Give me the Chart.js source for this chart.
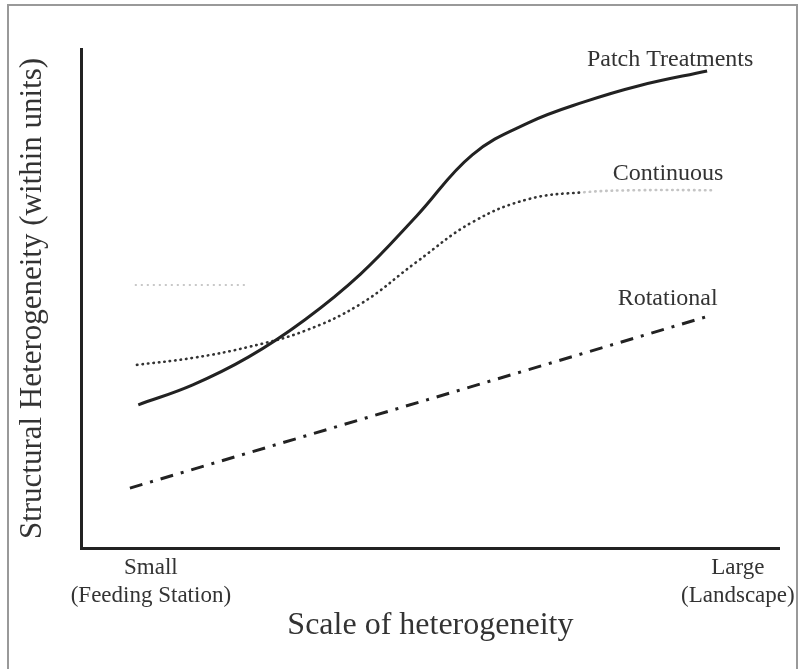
<!DOCTYPE html>
<html>
<head>
<meta charset="utf-8">
<script src="https://cdn.jsdelivr.net/npm/chart.js@4.4.1/dist/chart.umd.min.js"></script>
<style>
  body { margin: 0; background: #fff; }
  #wrap { position: relative; width: 802px; height: 669px; }
  #frame {
    position: absolute; left: 7px; top: 4px; width: 787px; height: 680px;
    border: 2px solid #999; pointer-events: none;
  }
</style>
</head>
<body>
<div id="wrap">
  <canvas id="chart"></canvas>
  <div id="frame"></div>
</div>
<script>
// Data (x: 0 = left axis, 100 = right end; y: 0 = bottom, 100 = top)
var patchX = [8.2, 16, 24, 32, 40, 48, 56, 64, 72, 80, 89.6];
var patchY = [28.7, 32.7, 38.3, 45.7, 54.9, 66.5, 78.8, 85.2, 89.4, 92.7, 95.6];

var continuousX = [8.0, 16, 24, 32, 40, 48, 56, 64, 72, 80, 90.4];
var continuousY = [36.7, 38.1, 40.3, 43.5, 48.9, 57.3, 65.3, 69.9, 71.3, 71.7, 71.7];

var rotationalX = [7.0, 89.4];
var rotationalY = [12.0, 46.3];

// faint stray dotted mark on the left
var strayX = [7.7, 23.5];
var strayY = [52.7, 52.7];

var tickValues = [10, 94];
var tickLabels = [["Small", "(Feeding Station)"], ["Large", "(Landscape)"]];

var seriesNames = ["Patch Treatments", "Continuous", "Rotational"];
var nameX = [72.4, 76.1, 76.8];
var nameY = [96.6, 73.7, 48.7];

function toPoints(xs, ys) {
  return xs.map(function (x, i) { return { x: x, y: ys[i] }; });
}

var serif = "'Liberation Serif', 'DejaVu Serif', serif";

// Draws the curve names next to the lines
var seriesLabels = {
  id: "seriesLabels",
  afterDatasetsDraw: function (chart) {
    var ctx = chart.ctx;
    var xs = chart.scales.x, ys = chart.scales.y;
    ctx.save();
    ctx.font = "24px " + serif;
    ctx.fillStyle = "#333";
    ctx.textAlign = "left";
    ctx.textBaseline = "alphabetic";
    seriesNames.forEach(function (name, i) {
      ctx.fillText(name, xs.getPixelForValue(nameX[i]), ys.getPixelForValue(nameY[i]));
    });
    ctx.restore();
  },
};

var ctx = document.getElementById("chart").getContext("2d");
new Chart(ctx, {
  type: "line",
  data: {
    datasets: [
      {
        label: seriesNames[0],
        data: toPoints(patchX, patchY),
        borderColor: "#222",
        borderWidth: 3,
        pointRadius: 0,
        tension: 0.4,
      },
      {
        label: seriesNames[1],
        data: toPoints(continuousX, continuousY),
        borderColor: "#333",
        borderWidth: 2.6,
        borderDash: [0.5, 5],
        borderCapStyle: "round",
        pointRadius: 0,
        tension: 0.4,
        segment: {
          borderColor: function (c) { return c.p0.parsed.x >= 72 ? "#c4c4c4" : "#333"; },
        },
      },
      {
        label: seriesNames[2],
        data: toPoints(rotationalX, rotationalY),
        borderColor: "#222",
        borderWidth: 3,
        borderDash: [13, 8, 3, 8],
        pointRadius: 0,
      },
      {
        label: "stray",
        data: toPoints(strayX, strayY),
        borderColor: "#c8c8c8",
        borderWidth: 2,
        borderDash: [2, 4],
        pointRadius: 0,
      },
    ],
  },
  options: {
    responsive: true,
    maintainAspectRatio: false,
    animation: false,
    layout: { padding: { left: 0, top: 49, right: 22, bottom: 0 } },
    plugins: { legend: { display: false }, tooltip: { enabled: false } },
    scales: {
      x: {
        type: "linear",
        min: 0,
        max: 100,
        grid: { display: true, color: "rgba(0,0,0,0)", drawTicks: false },
        border: { display: true, width: 3, color: "#222" },
        afterBuildTicks: function (scale) {
          scale.ticks = tickValues.map(function (v) { return { value: v }; });
        },
        ticks: {
          autoSkip: false,
          maxRotation: 0,
          padding: 6,
          color: "#333",
          font: { family: serif, size: 23, lineHeight: 1.22 },
          callback: function (value) {
            var i = tickValues.indexOf(value);
            return i >= 0 ? tickLabels[i] : "";
          },
        },
        title: {
          display: true,
          text: "Scale of heterogeneity",
          color: "#333",
          font: { family: serif, size: 32, lineHeight: 1.2 },
          padding: { top: 0, bottom: 24 },
        },
        afterFit: function (scale) { scale.height = 669 - 548; },
      },
      y: {
        type: "linear",
        min: 0,
        max: 100,
        grid: { display: true, color: "rgba(0,0,0,0)", drawTicks: false },
        border: { display: true, width: 3, color: "#222" },
        ticks: { display: false },
        title: {
          display: true,
          text: "Structural Heterogeneity (within units)",
          color: "#333",
          font: { family: serif, size: 31, lineHeight: 1.2 },
          padding: { top: 14, bottom: 0 },
        },
        afterFit: function (scale) { scale.width = 81; },
      },
    },
  },
  plugins: [seriesLabels],
});
</script>
</body>
</html>
